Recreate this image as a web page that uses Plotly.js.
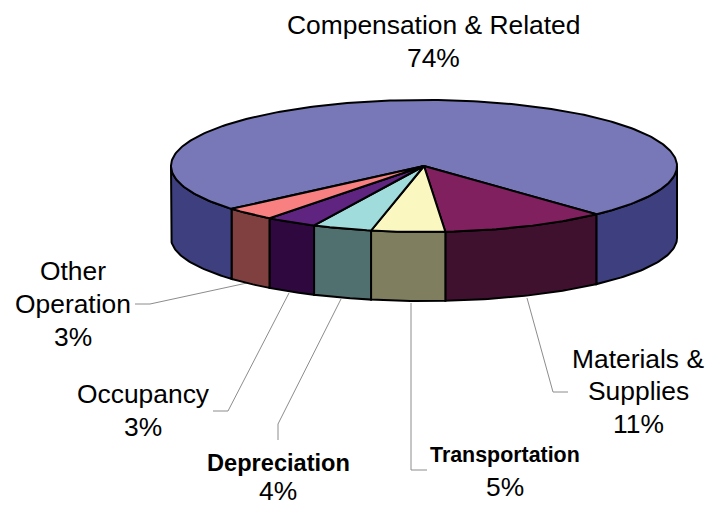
<!DOCTYPE html>
<html>
<head>
<meta charset="utf-8">
<script src="https://cdn.plot.ly/plotly-3.0.1.min.js"></script>
<style>html,body{margin:0;padding:0;background:#fff}#chart{width:716px;height:506px}</style>
</head>
<body>
<div id="chart"></div>
<script>
// Data (shares, clockwise from the Materials slice)
const categories = [['Materials &', 'Supplies'], ['Transportation'], ['Depreciation'], ['Occupancy'], ['Other', 'Operation'], ['Compensation & Related']];
const shares = [10.6, 4.7, 3.8, 3.3, 3.3, 74.3];
const topColors = ['#80205E', '#FBF7C0', '#A0DCDC', '#5F2480', '#F98080', '#7878B9'];
const sideColors = ['#40112F', '#7F7F60', '#507070', '#300840', '#804040', '#3E3F7E'];
const boldLabel = [false, true, true, false, false, false];
const nameFont = [26.4, 21.4, 23.6, 26.4, 26.4, 26.4];
const labelX = [638, 505, 278, 143, 73, 433];
const labelLineY = [[359, 391, 424], [455, 487], [463, 491], [394, 427], [271, 304, 337], [25, 58]];
const leaderX = [[568,553,527],[427,411,411],[278,278,341],[213,228,289],[135,150,247]];
const leaderY = [[392,392,298],[470,470,303],[440,424,299],[411,411,293],[304,304,283]];

// Projection of the tilted pie
const cx = 424, cy = 166, rx = 253, ry = 66;
const edgeDepth = 72, frontDepth = 69;
const startDeg = 43;
const rad = d => d * Math.PI / 180;
const rimX = t => cx + rx * Math.sin(rad(t));
const rimY = t => cy + ry * Math.cos(rad(t));
const baseY = t => { const c = Math.max(0, Math.cos(rad(t))); return cy + edgeDepth + (ry - edgeDepth + frontDepth) * c; };

const total = shares.reduce((a, b) => a + b, 0);
const spans = [];
let a = startDeg;
shares.forEach(v => { const b = a - v / total * 360; spans.push([a, b]); a = b; });

function arc(t1, t2) {
  const n = Math.max(2, Math.ceil(Math.abs(t2 - t1) / 1));
  const out = [];
  for (let i = 0; i <= n; i++) out.push(t1 + (t2 - t1) * i / n);
  return out;
}
const line = {color: '#000', width: 2};
const traces = [];
function poly(xs, ys, fill) {
  traces.push({type: 'scatter', mode: 'lines', x: xs, y: ys, fill: 'toself', fillcolor: fill, line: line, hoverinfo: 'skip', showlegend: false});
}
// Leader lines
leaderX.forEach((xs, i) => traces.push({type: 'scatter', mode: 'lines', x: xs, y: leaderY[i], line: {color: '#8c8c8c', width: 1}, hoverinfo: 'skip', showlegend: false}));

// Side walls: only the near half (-90..90) is visible
function wall(t1, t2, color) {
  const hi = Math.min(90, Math.max(t1, t2)), lo = Math.max(-90, Math.min(t1, t2));
  if (hi <= lo) return;
  const ts = arc(hi, lo), back = ts.slice().reverse();
  const xs = ts.map(rimX).concat(back.map(rimX)); xs.push(xs[0]);
  const ys = ts.map(rimY).concat(back.map(baseY)); ys.push(ys[0]);
  poly(xs, ys, color);
}
spans.forEach((s, i) => {
  if (i === spans.length - 1) {
    // the large slice wraps around the back: two visible wall pieces
    wall(s[0], -90, sideColors[i]);
    wall(s[1] + 360, 90, sideColors[i]);
  } else wall(s[0], s[1], sideColors[i]);
});
// Top faces: largest first
[5, 0, 1, 2, 3, 4].forEach(i => {
  const ts = arc(spans[i][0], spans[i][1]);
  const xs = [cx].concat(ts.map(rimX), [cx]);
  const ys = [cy].concat(ts.map(rimY), [cy]);
  poly(xs, ys, topColors[i]);
});

const family = '"Liberation Sans", Arial, sans-serif';
const annotations = [];
categories.forEach((lines, i) => {
  const all = lines.concat([Math.round(shares[i]) + '%']);
  all.forEach((txt, k) => {
    const isName = k < lines.length;
    annotations.push({
      x: labelX[i], y: labelLineY[i][k], xref: 'x', yref: 'y', showarrow: false,
      xanchor: 'center', yanchor: 'middle', align: 'center',
      text: isName && boldLabel[i] ? '<b>' + txt + '</b>' : txt,
      font: {family: family, size: isName ? nameFont[i] : 26.4, color: '#000'}
    });
  });
});

const layout = {
  width: 716, height: 506,
  margin: {l: 0, r: 0, t: 0, b: 0},
  paper_bgcolor: '#fff', plot_bgcolor: '#fff',
  xaxis: {range: [0, 716], visible: false, fixedrange: true},
  yaxis: {range: [506, 0], visible: false, fixedrange: true},
  showlegend: false, hovermode: false,
  annotations: annotations
};
Plotly.newPlot('chart', traces, layout, {displayModeBar: false, staticPlot: true});
</script>
</body>
</html>
